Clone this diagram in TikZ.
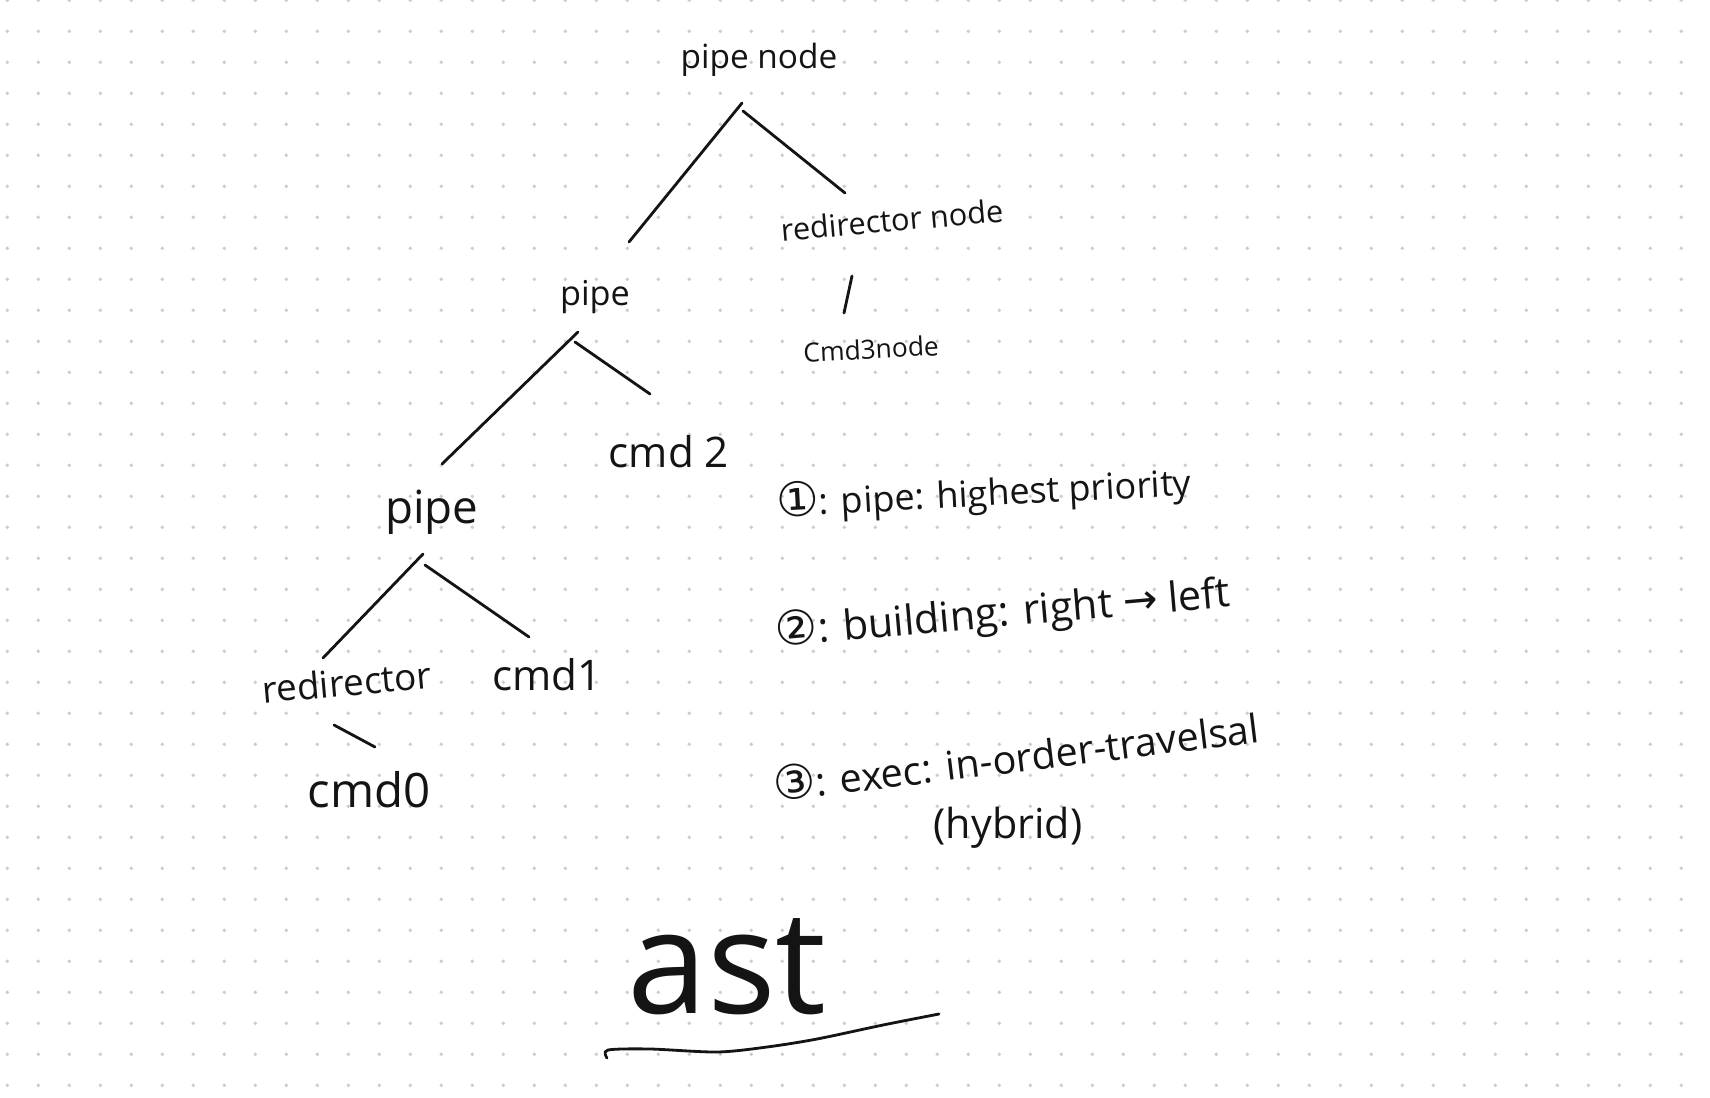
\documentclass[tikz,border=0pt]{standalone}
\usepackage{fontspec}
\setmainfont{Open Sans}
\newfontfamily\symfont{DejaVu Sans}
\usepackage{tikz}
\usetikzlibrary{calc}
\definecolor{Ink}{HTML}{141414}
\definecolor{Dot}{HTML}{CDCDCD}
\newcommand{\CircNum}[1]{{\symfont\fontsize{27}{27}\selectfont #1}}

\begin{document}
\begin{tikzpicture}[
    x=0.02cm,
    y=-0.02cm,
    hand/.style={font=\fontsize{#1}{#1}\selectfont, text=Ink, inner sep=0pt},
    stroke/.style={Ink, line width=1.6pt, line cap=round, line join=round}
]

% Paper
\fill[white] (0,0) rectangle (1710,1098);
\useasboundingbox (0,0) rectangle (1710,1098);
\foreach \i in {0,...,54} {
    \foreach \j in {0,...,35} {
        \fill[Dot] (7.3+31*\i, 0.3+31*\j) circle (1.1pt);
    }
}

% Tree
\node[hand=19] (root) at (759,60) {pipe node};
\node[hand=17.5, rotate=5] (redirT) at (892,220) {redirector node};
\node[hand=15, rotate=3] (cmdC) at (871,349) {Cmd3node};
\node[hand=19.5] (pipeA) at (595,297) {pipe};
\node[hand=24] (cmdB) at (669,452) {cmd 2};
\node[hand=26] (pipeB) at (432,512) {pipe};
\node[hand=21, rotate=5] (redirB) at (347,682) {redirector};
\node[hand=24] (cmdA) at (547,675) {cmd1};
\node[hand=27] (cmdZ) at (369,790) {cmd0};

\draw[stroke] ($(root)+(-17,43)$) -- ($(pipeA)+(34,-55)$);
\draw[stroke] ($(root)+(-16,51)$) -- ($(redirT)+(-47,-27)$);
\draw[stroke] ($(redirT)+(-40,56)$) -- ($(cmdC)+(-27,-36)$);
\draw[stroke] ($(pipeA)+(-17,35)$) -- ($(pipeB)+(10,-48)$);
\draw[stroke] ($(pipeA)+(-20,45)$) -- ($(cmdB)+(-19,-58)$);
\draw[stroke] ($(pipeB)+(-9,42)$) -- ($(redirB)+(-24,-24)$);
\draw[stroke] ($(pipeB)+(-7,53)$) -- ($(cmdA)+(-18,-38)$);
\draw[stroke] ($(redirB)+(-13,43)$) -- ($(cmdZ)+(6,-43)$);

% Notes
\node[hand=20.5, rotate=3] (ruleA) at (984,493) {\CircNum{①}: pipe: highest priority};
\node[hand=23.5, rotate=5] (ruleB) at (1003,614) {\CircNum{②}: building: right {\symfont →} left};
\node[hand=22.5, rotate=7] (ruleC) at (1016,755) {\CircNum{③}: exec: in-order-travelsal};
\node[hand=23.5] (hybrid) at (1008,828) {(hybrid)};

% Title
\node[hand=82] (title) at (727,967) {ast};
\draw[stroke] plot[smooth] coordinates {(607,1058) (608,1050) (650,1049) (717,1052) (767,1047) (817,1039) (883,1025) (939,1014)};

\end{tikzpicture}
\end{document}
